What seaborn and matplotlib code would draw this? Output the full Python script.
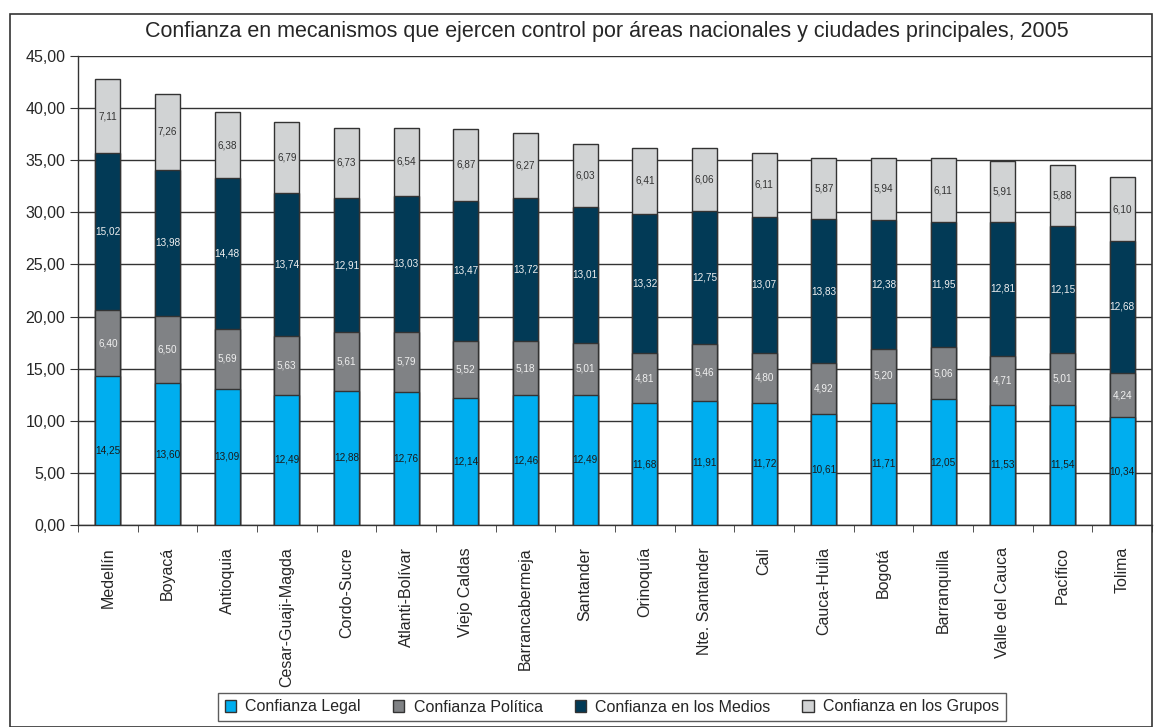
import pandas as pd
import seaborn as sns
import matplotlib.pyplot as plt
from matplotlib.patches import Patch, Rectangle


# Datos
regiones = ['Medellín', 'Boyacá', 'Antioquia', 'Cesar-Guaji-Magda', 'Cordo-Sucre',
            'Atlanti-Bolívar', 'Viejo Caldas', 'Barrancabermeja', 'Santander',
            'Orinoquía', 'Nte. Santander', 'Cali', 'Cauca-Huila', 'Bogotá',
            'Barranquilla', 'Valle del Cauca', 'Pacífico', 'Tolima']
legal = [14.25, 13.60, 13.09, 12.49, 12.88, 12.76, 12.14, 12.46, 12.49,
         11.68, 11.91, 11.72, 10.61, 11.71, 12.05, 11.53, 11.54, 10.34]
politica = [6.40, 6.50, 5.69, 5.63, 5.61, 5.79, 5.52, 5.18, 5.01,
            4.81, 5.46, 4.80, 4.92, 5.20, 5.06, 4.71, 5.01, 4.24]
medios = [15.02, 13.98, 14.48, 13.74, 12.91, 13.03, 13.47, 13.72, 13.01,
          13.32, 12.75, 13.07, 13.83, 12.38, 11.95, 12.81, 12.15, 12.68]
grupos = [7.11, 7.26, 6.38, 6.79, 6.73, 6.54, 6.87, 6.27, 6.03,
          6.41, 6.06, 6.11, 5.87, 5.94, 6.11, 5.91, 5.88, 6.10]

series = ['Confianza Legal', 'Confianza Política', 'Confianza en los Medios', 'Confianza en los Grupos']
colores = ['#00aeef', '#808285', '#023a56', '#d1d3d4']
color_texto = ['#1a1a1a', '#f0f0f0', '#f0f0f0', '#333333']
titulo = 'Confianza en mecanismos que ejercen control por áreas nacionales y ciudades principales, 2005'

sns.set_style('white')
plt.rcParams['font.family'] = ['Liberation Sans', 'DejaVu Sans']

df = pd.DataFrame({'region': regiones, series[0]: legal, series[1]: politica,
                   series[2]: medios, series[3]: grupos})
acum = df[series].cumsum(axis=1)
acum['region'] = regiones

fig = plt.figure(figsize=(11.55, 7.27), dpi=100)
ax = fig.add_axes([78 / 1155, 1 - 525 / 727, (1152 - 78) / 1155, (525 - 56) / 727])

# Barras apiladas: se dibuja primero el total y encima cada acumulado menor
for k in range(3, -1, -1):
    sns.barplot(data=acum, x='region', y=series[k], color=colores[k], width=0.42,
                edgecolor='#333333', linewidth=1, saturation=1, ax=ax, zorder=3)

# Etiquetas de valores
for i in range(len(regiones)):
    base = 0
    for k, s in enumerate(series):
        v = df[s].iloc[i]
        ax.text(i, base + v / 2, f'{v:.2f}'.replace('.', ','), ha='center', va='center',
                fontsize=7.2, color=color_texto[k], zorder=4)
        base += v

ax.set_ylim(0, 45)
ax.set_xlim(-0.5, len(regiones) - 0.5)
ax.set_yticks(range(0, 50, 5))
ax.set_yticklabels([f'{v:.2f}'.replace('.', ',') for v in range(0, 50, 5)], fontsize=11.5)
ax.yaxis.grid(True, color='#333333', linewidth=1)
ax.set_axisbelow(True)
ax.tick_params(axis='y', left=True, length=6, color='#333333', pad=3)
ax.set_xticks(range(len(regiones)))
ax.set_xticklabels(regiones, rotation=90, fontsize=11.5)
ax.tick_params(axis='x', which='major', length=0, pad=16)
ax.set_xticks([i - 0.5 for i in range(len(regiones) + 1)], minor=True)
ax.tick_params(axis='x', which='minor', bottom=True, length=5, color='#333333')
ax.set_xlabel('')
ax.set_ylabel('')
for lado in ['top', 'right']:
    ax.spines[lado].set_visible(False)
for lado in ['left', 'bottom']:
    ax.spines[lado].set_color('#333333')
    ax.spines[lado].set_linewidth(1)

fig.text(607 / 1155, 1 - 32 / 727, titulo, ha='center', va='center', fontsize=15.5)

handles = [Patch(facecolor=c, edgecolor='#333333', label=s) for c, s in zip(colores, series)]
leg = fig.legend(handles=handles, loc='center', bbox_to_anchor=(612 / 1155, 1 - 707 / 727),
                 ncol=4, fontsize=11.5, frameon=True, fancybox=False, handlelength=0.7,
                 handleheight=0.7, columnspacing=2.0, handletextpad=0.6, borderpad=0.4)
leg.get_frame().set_edgecolor('#333333')
leg.get_frame().set_linewidth(1)

fig.patches.append(Rectangle((10 / 1155, 0), (1152 - 10) / 1155, 1 - 14 / 727,
                             transform=fig.transFigure, fill=False, edgecolor='#333333',
                             linewidth=1.2))

fig.savefig('out.png', dpi=100)
